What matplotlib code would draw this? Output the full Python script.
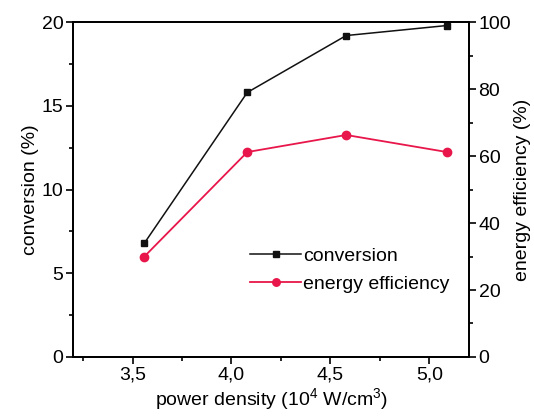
import matplotlib
matplotlib.use("Agg")
import matplotlib.pyplot as plt
from matplotlib.ticker import MultipleLocator

plt.rcParams['font.family'] = ['Liberation Sans', 'DejaVu Sans']
plt.rcParams['mathtext.default'] = 'regular'

# data
power_density = [3.56, 4.08, 4.58, 5.09]
conversion = [6.8, 15.8, 19.2, 19.8]
energy_efficiency = [30.0, 61.2, 66.3, 61.2]

black = '#111111'
pink = '#e8164a'

fig = plt.figure(figsize=(5.34, 4.18), dpi=100)
ax = fig.add_axes([0.137, 0.146, 0.741, 0.801])
ax2 = ax.twinx()

l1, = ax.plot(power_density, conversion, color=black, lw=1.1, marker='s', ms=5,
              label='conversion')
l2, = ax2.plot(power_density, energy_efficiency, color=pink, lw=1.3, marker='o', ms=6,
               label='energy efficiency')

ax.set_xlim(3.2, 5.2)
ax.set_ylim(0, 20)
ax2.set_ylim(0, 100)

ax.xaxis.set_major_locator(MultipleLocator(0.5))
ax.xaxis.set_minor_locator(MultipleLocator(0.25))
ax.yaxis.set_major_locator(MultipleLocator(5))
ax.yaxis.set_minor_locator(MultipleLocator(2.5))
ax2.yaxis.set_major_locator(MultipleLocator(20))
ax2.yaxis.set_minor_locator(MultipleLocator(10))

ax.xaxis.set_major_formatter(lambda v, p: f'{v:.1f}'.replace('.', ','))

fs = 14
for a in (ax, ax2):
    a.tick_params(which='major', direction='out', length=5, width=1.2, labelsize=fs, pad=2)
    a.tick_params(which='minor', direction='out', length=3, width=1.2)
    for s in a.spines.values():
        s.set_linewidth(1.3)
ax.tick_params(top=False, which='both')

ax.set_xlabel('power density (10$^4$ W/cm$^3$)', fontsize=fs, labelpad=2)
ax.set_ylabel('conversion (%)', fontsize=fs, labelpad=2)
ax2.set_ylabel('energy efficiency (%)', fontsize=fs, labelpad=2)

ax.legend(handles=[l1, l2], loc='lower right', bbox_to_anchor=(0.995, 0.14),
          frameon=False, fontsize=fs, handlelength=2.6, handletextpad=0.1,
          labelspacing=0.5, markerscale=0.9)

fig.savefig('out.png', dpi=100)
plt.close(fig)
